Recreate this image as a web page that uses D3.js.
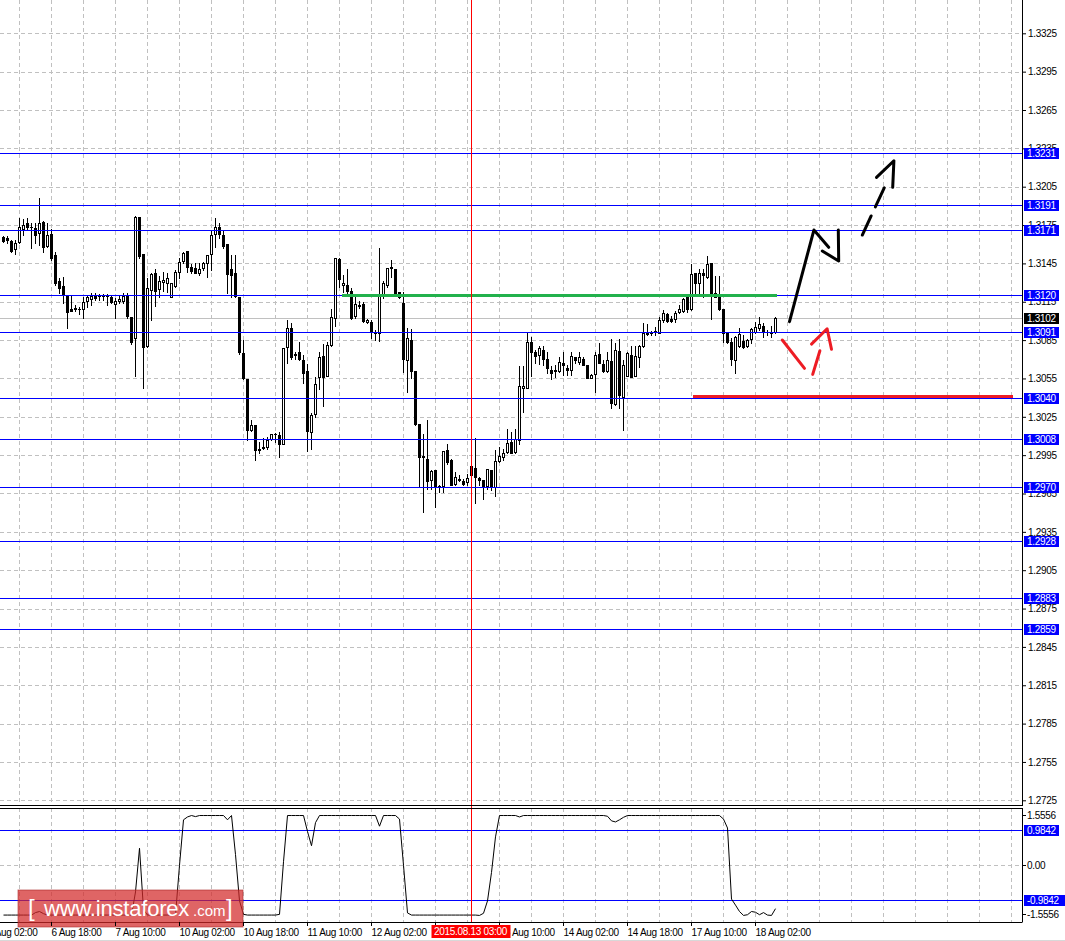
<!DOCTYPE html>
<html><head><meta charset="utf-8">
<script src="https://cdn.jsdelivr.net/npm/d3@7"></script>
<style>
body{margin:0;background:#fff;}
svg{display:block;}
text{font-family:"Liberation Sans",Arial,sans-serif;}
</style>
</head><body>
<svg id="chart" width="1065" height="941"></svg>
<script>
// ---------- DATA (EURUSD-like H1, 6 Aug 05:00 .. 18 Aug 07:00) ----------
const opens = [1.31659,1.31651,1.31625,1.31559,1.31620,1.31716,1.31763,1.31737,1.31724,1.31690,
1.31771,1.31586,1.31677,1.31515,1.31311,1.31272,1.31194,1.31093,1.31098,1.31093,
1.31093,1.31155,1.31168,1.31194,1.31194,1.31192,1.31194,1.31184,1.31134,1.31155,
1.31158,1.31194,1.31030,1.30863,1.31810,1.31523,1.30805,1.31241,1.31372,1.31249,
1.31306,1.31298,1.31189,1.31277,1.31385,1.31468,1.31544,1.31419,1.31411,1.31372,
1.31411,1.31455,1.31520,1.31677,1.31737,1.31669,1.31601,1.31403,1.31372,1.31189,
1.30750,1.30549,1.30150,1.30184,1.30001,1.30010,1.30010,1.30075,1.30114,1.30111,
1.30041,1.30793,1.30941,1.30738,1.30753,1.30693,1.30607,1.30132,1.30268,1.30558,
1.30725,1.30571,1.30811,1.31020,1.31484,1.31281,1.31281,1.31234,1.31038,1.31119,
1.31132,1.30994,1.30994,1.30915,1.30902,1.31202,1.31281,1.31415,1.31403,1.31223,
1.31142,1.30693,1.30850,1.30607,1.30190,1.29936,1.29923,1.29759,1.29832,1.29702,
1.29707,1.29994,1.29910,1.29728,1.29759,1.29746,1.29741,1.29793,1.29853,1.29775,
1.29754,1.29707,1.29832,1.29702,1.29905,1.29936,1.29976,1.30049,1.29976,1.30067,
1.30477,1.30477,1.30837,1.30759,1.30733,1.30772,1.30701,1.30620,1.30607,1.30607,
1.30667,1.30633,1.30620,1.30714,1.30675,1.30701,1.30654,1.30555,1.30581,1.30738,
1.30662,1.30610,1.30686,1.30349,1.30764,1.30406,1.30571,1.30733,1.30571,1.30714,
1.30803,1.30915,1.30910,1.30923,1.30907,1.31007,1.31054,1.31014,1.31012,1.31072,
1.31080,1.31184,1.31090,1.31372,1.31294,1.31372,1.31341,1.31456,1.31215,1.31189,
1.31093,1.30907,1.30837,1.30693,1.30803,1.30845,1.30803,1.30855,1.30915,1.30941,
1.30960,1.30915,1.30915,1.30915];
const highs = [1.31664,1.31664,1.31633,1.31633,1.31802,1.31794,1.31802,1.31763,1.31763,1.31959,
1.31781,1.31763,1.31716,1.31541,1.31332,1.31340,1.31194,1.31194,1.31124,1.31111,
1.31184,1.31194,1.31215,1.31220,1.31207,1.31207,1.31207,1.31194,1.31176,1.31194,
1.31215,1.31215,1.31030,1.31820,1.31815,1.31523,1.31338,1.31377,1.31406,1.31351,
1.31385,1.31377,1.31298,1.31398,1.31489,1.31541,1.31544,1.31445,1.31455,1.31455,
1.31463,1.31512,1.31711,1.31807,1.31768,1.31711,1.31601,1.31515,1.31515,1.31189,
1.30850,1.30549,1.30223,1.30184,1.30050,1.30088,1.30093,1.30119,1.30124,1.30132,
1.30785,1.31007,1.30980,1.30759,1.30832,1.30733,1.30662,1.30281,1.30563,1.30759,
1.30819,1.30837,1.31090,1.31489,1.31489,1.31359,1.31406,1.31260,1.31189,1.31155,
1.31150,1.31012,1.31007,1.30928,1.31568,1.31310,1.31411,1.31476,1.31403,1.31228,
1.31228,1.30941,1.30934,1.30607,1.30190,1.30119,1.30224,1.29832,1.29832,1.29715,
1.29981,1.30041,1.29923,1.29819,1.29793,1.29760,1.29806,1.29863,1.30088,1.29780,
1.29759,1.29845,1.29832,1.29994,1.30015,1.30002,1.30151,1.30132,1.30151,1.30646,
1.30646,1.30907,1.30871,1.30772,1.30803,1.30803,1.30759,1.30646,1.30654,1.30714,
1.30759,1.30654,1.30759,1.30719,1.30759,1.30719,1.30659,1.30581,1.30759,1.30829,
1.30693,1.30759,1.30855,1.30824,1.30858,1.30693,1.30759,1.30803,1.30803,1.30811,
1.30980,1.30975,1.30923,1.30954,1.31027,1.31085,1.31059,1.31038,1.31077,1.31124,
1.31176,1.31184,1.31445,1.31377,1.31403,1.31403,1.31508,1.31456,1.31351,1.31351,
1.31093,1.30907,1.30863,1.30884,1.30941,1.30889,1.30858,1.30941,1.30994,1.31027,
1.30986,1.30928,1.30960,1.31030];
const lows = [1.31620,1.31612,1.31541,1.31520,1.31606,1.31672,1.31711,1.31567,1.31606,1.31593,
1.31541,1.31580,1.31476,1.31280,1.31215,1.31137,1.30941,1.31079,1.31079,1.31058,
1.31019,1.31111,1.31124,1.31163,1.31163,1.31163,1.31124,1.31137,1.31019,1.31137,
1.31137,1.31019,1.30823,1.30568,1.31489,1.30476,1.30797,1.31006,1.31116,1.31189,
1.31233,1.31228,1.31189,1.31267,1.31338,1.31450,1.31385,1.31377,1.31372,1.31359,
1.31398,1.31345,1.31398,1.31580,1.31646,1.31567,1.31215,1.31189,1.31189,1.30745,
1.30549,1.30067,1.30140,1.29910,1.29970,1.30002,1.30002,1.30067,1.30054,1.29936,
1.30036,1.30667,1.30706,1.30706,1.30693,1.30516,1.29981,1.30002,1.30250,1.30464,
1.30336,1.30568,1.30806,1.30960,1.31268,1.31228,1.31215,1.31012,1.31020,1.31103,
1.30994,1.30980,1.30868,1.30850,1.30842,1.31180,1.31268,1.31346,1.31202,1.31176,
1.30602,1.30445,1.30550,1.30184,1.29702,1.29506,1.29689,1.29689,1.29545,1.29662,
1.29662,1.29884,1.29715,1.29715,1.29749,1.29720,1.29715,1.29715,1.29576,1.29715,
1.29610,1.29689,1.29681,1.29629,1.29897,1.29910,1.29963,1.29963,1.29963,1.30036,
1.30289,1.30477,1.30568,1.30667,1.30662,1.30654,1.30589,1.30542,1.30558,1.30602,
1.30576,1.30576,1.30576,1.30673,1.30662,1.30654,1.30550,1.30550,1.30445,1.30667,
1.30602,1.30602,1.30315,1.30341,1.30315,1.30145,1.30568,1.30563,1.30568,1.30642,
1.30798,1.30889,1.30889,1.30889,1.30902,1.30994,1.30988,1.30988,1.30994,1.31064,
1.31072,1.31072,1.31085,1.31202,1.31221,1.31184,1.31333,1.31012,1.31184,1.31085,
1.30837,1.30824,1.30654,1.30589,1.30798,1.30785,1.30793,1.30829,1.30902,1.30928,
1.30876,1.30889,1.30871,1.30907];
const closes = [1.31627,1.31633,1.31546,1.31612,1.31732,1.31750,1.31732,1.31732,1.31672,1.31763,
1.31580,1.31672,1.31494,1.31298,1.31259,1.31202,1.31071,1.31079,1.31095,1.31090,
1.31150,1.31184,1.31194,1.31181,1.31192,1.31194,1.31192,1.31150,1.31155,1.31173,
1.31194,1.31037,1.30837,1.31815,1.31507,1.30797,1.31254,1.31367,1.31236,1.31314,
1.31319,1.31338,1.31293,1.31385,1.31463,1.31528,1.31424,1.31392,1.31377,1.31406,
1.31450,1.31512,1.31669,1.31737,1.31677,1.31586,1.31364,1.31359,1.31194,1.30758,
1.30555,1.30150,1.30189,1.29993,1.29993,1.30005,1.30067,1.30114,1.30119,1.30036,
1.30785,1.30947,1.30719,1.30733,1.30701,1.30589,1.30140,1.30263,1.30503,1.30714,
1.30558,1.30811,1.31027,1.31489,1.31325,1.31294,1.31234,1.31025,1.31129,1.31124,
1.31001,1.31007,1.30915,1.30902,1.31202,1.31294,1.31411,1.31419,1.31210,1.31184,
1.30699,1.30863,1.30610,1.30192,1.29936,1.29942,1.29749,1.29824,1.29702,1.29707,
1.29981,1.29897,1.29720,1.29780,1.29762,1.29728,1.29775,1.29863,1.29780,1.29759,
1.29702,1.29845,1.29702,1.29903,1.29942,1.29970,1.30046,1.29970,1.30075,1.30492,
1.30490,1.30837,1.30759,1.30727,1.30785,1.30706,1.30628,1.30589,1.30615,1.30680,
1.30654,1.30615,1.30725,1.30693,1.30714,1.30659,1.30555,1.30576,1.30733,1.30667,
1.30610,1.30693,1.30359,1.30772,1.30419,1.30659,1.30751,1.30563,1.30725,1.30803,
1.30902,1.30894,1.30908,1.30920,1.31007,1.31059,1.30999,1.30999,1.31059,1.31090,
1.31168,1.31090,1.31364,1.31299,1.31372,1.31359,1.31442,1.31210,1.31184,1.31090,
1.30907,1.30837,1.30699,1.30876,1.30897,1.30793,1.30850,1.30934,1.30949,1.30973,
1.30915,1.30910,1.30902,1.31020];
// oscillator (lower window)
const indicator = [-1.40,-1.40,-1.40,-1.40,-1.40,-1.40,-1.40,-1.40,-1.33,-1.30,
-1.36,-1.40,-1.40,-1.40,-1.40,-1.40,-1.40,-1.40,-1.40,-1.40,
-1.40,-1.40,-1.40,-1.40,-1.40,-1.40,-1.40,-1.40,-1.40,-1.40,
-1.40,-1.40,-1.40,-0.75,0.48,-1.25,-1.40,-1.40,-1.40,-1.40,
-1.40,-1.40,-1.40,-1.40,0.00,1.28,1.36,1.40,1.37,1.40,
1.40,1.40,1.40,1.40,1.40,1.40,1.28,1.40,0.30,-1.00,
-1.38,-1.40,-1.40,-1.40,-1.40,-1.40,-1.40,-1.40,-1.40,-1.38,
0.10,1.40,1.40,1.40,1.40,1.40,0.95,0.55,1.20,1.40,
1.40,1.40,1.40,1.40,1.40,1.40,1.40,1.40,1.40,1.40,
1.40,1.40,1.40,1.40,1.10,1.40,1.40,1.40,1.40,1.30,
0.00,-1.34,-1.40,-1.40,-1.40,-1.40,-1.40,-1.40,-1.40,-1.40,
-1.40,-1.40,-1.40,-1.40,-1.40,-1.40,-1.40,-1.40,-1.40,-1.41,
-1.35,-1.00,-0.20,0.80,1.40,1.40,1.40,1.40,1.40,1.36,
1.40,1.40,1.40,1.40,1.40,1.40,1.40,1.40,1.40,1.40,
1.40,1.40,1.40,1.40,1.40,1.40,1.40,1.40,1.40,1.40,
1.40,1.38,1.25,1.22,1.28,1.35,1.40,1.40,1.40,1.40,
1.40,1.40,1.40,1.40,1.40,1.40,1.40,1.40,1.40,1.40,
1.40,1.40,1.40,1.40,1.40,1.40,1.40,1.40,1.40,1.40,
1.30,1.05,-0.95,-1.12,-1.30,-1.41,-1.39,-1.30,-1.32,-1.39,
-1.33,-1.40,-1.41,-1.22];

const priceTicks = [1.3325,1.3295,1.3265,1.3235,1.3205,1.3175,1.3145,1.3115,1.3085,1.3055,1.3025,
  1.2995,1.2965,1.2935,1.2905,1.2875,1.2845,1.2815,1.2785,1.2755,1.2725];
const levelValues = [1.3231,1.3191,1.3171,1.3120,1.3091,1.3040,1.3008,1.2970,1.2928,1.2883,1.2859];
const currentPrice = 1.3102;
const indLevels = [0.9842,-0.9842];
const indRange = [-1.5556,1.5556];
const timeTickIdx = [-4,12,28,44,60,76,92,108,124,140,156,172,188];
const timeLabels = ["6 Aug 02:00","6 Aug 18:00","7 Aug 10:00","10 Aug 02:00","10 Aug 18:00","11 Aug 10:00",
  "12 Aug 02:00","12 Aug 18:00","13 Aug 10:00","14 Aug 02:00","14 Aug 18:00","17 Aug 10:00","18 Aug 02:00"];
const cursorIdx = 117, cursorLabel = "2015.08.13 03:00";
const greenLine = {from:84.75, to:193.5, price:1.3120};
const redLine = {from:172.5, to:252.5, price:1.30413};
// hand-drawn forecast arrows: [bar index, price]
const blackShaft = [[196.5,1.30994],[202.6,1.31711],[206.3,1.31576]];
const blackHead1 = [[204.7,1.31547],[208.8,1.31469],[208.7,1.31711]];
const blackDash = [[214.7,1.31672],[220.75,1.32079]];
const blackHead2 = [[218.25,1.32123],[222.6,1.32253],[222.3,1.32045]];
const redSeg1 = [[194.7,1.30851],[200.25,1.30629]];
const redSeg2 = [[202.3,1.30582],[204.1,1.30767]];
const redHead = [[202,1.30819],[205.9,1.30939],[207,1.30778]];

// ---------- LAYOUT ----------
const svg = d3.select("#chart");
const W = 1065, H = 941, plotR = 1022;
const mainTop = 0, mainBot = 806, indTop = 808, indBot = 922;
const BLUE = "#0000ff", GRID = "#c0c0c0";

const xs = d3.scaleLinear().domain([0,1]).range([3,7]);         // bar index -> pixel column
const y = d3.scaleLinear().domain([1.2725,1.3325]).range([800.3,33.3]);
const yi = d3.scaleLinear().domain(indRange).range([920.6,810.0]);
const cx = i => xs(i) + 0.5;
const crisp = v => Math.round(v) + 0.5;

svg.append("rect").attr("width",W).attr("height",H).attr("fill","#fff");

// clip for plot regions
const defs = svg.append("defs");
defs.append("clipPath").attr("id","cm").append("rect").attr("x",0).attr("y",mainTop).attr("width",plotR).attr("height",mainBot-mainTop);
defs.append("clipPath").attr("id","ci").append("rect").attr("x",0).attr("y",indTop).attr("width",plotR).attr("height",indBot-indTop);

const gMain = svg.append("g").attr("clip-path","url(#cm)");
const gInd = svg.append("g").attr("clip-path","url(#ci)");

// vertical grid (every 8 bars)
const gridIdx = d3.range(4, 256, 8);
[[gMain,mainTop,mainBot],[gInd,indTop,indBot]].forEach(([g,t,b]) => {
  g.selectAll(null).data(gridIdx).enter().append("line")
    .attr("x1",d=>cx(d)).attr("x2",d=>cx(d)).attr("y1",t).attr("y2",b)
    .attr("stroke",GRID).attr("stroke-dasharray","4,3");
});
// horizontal grid
gMain.selectAll(null).data(priceTicks).enter().append("line")
  .attr("x1",0).attr("x2",plotR).attr("y1",d=>crisp(y(d))).attr("y2",d=>crisp(y(d)))
  .attr("stroke",GRID).attr("stroke-dasharray","4,3");
gInd.append("line").attr("x1",0).attr("x2",plotR).attr("y1",crisp(yi(0))).attr("y2",crisp(yi(0)))
  .attr("stroke",GRID).attr("stroke-dasharray","4,3");

// current price line
gMain.append("line").attr("x1",0).attr("x2",plotR).attr("y1",crisp(y(currentPrice))).attr("y2",crisp(y(currentPrice)))
  .attr("stroke","#c0c0c0");

// candles
const bars = d3.range(opens.length).map(i => ({i,o:opens[i],h:highs[i],l:lows[i],c:closes[i]}));
const gC = gMain.append("g");
gC.selectAll(null).data(bars).enter().append("line")
  .attr("x1",d=>cx(d.i)).attr("x2",d=>cx(d.i))
  .attr("y1",d=>Math.round(y(d.h))).attr("y2",d=>Math.round(y(d.l))+1)
  .attr("stroke","#000");
bars.forEach(d => {
  const top = Math.round(y(Math.max(d.o,d.c)));
  let bot = Math.round(y(Math.min(d.o,d.c)));
  const px = xs(d.i);
  if (d.c >= d.o) {
    if (bot - top < 2) { // doji-like: flat body
      gC.append("rect").attr("x",px-1).attr("y",top).attr("width",3).attr("height",Math.max(1,bot-top+1)).attr("fill","#000");
    } else {
      gC.append("rect").attr("x",px-0.5).attr("y",top+0.5).attr("width",2).attr("height",bot-top)
        .attr("fill","#fff").attr("stroke","#000");
    }
  } else {
    gC.append("rect").attr("x",px-1).attr("y",top).attr("width",3).attr("height",Math.max(1,bot-top+1)).attr("fill","#000");
  }
});

// level lines
gMain.selectAll(null).data(levelValues).enter().append("line")
  .attr("x1",0).attr("x2",plotR).attr("y1",d=>crisp(y(d))).attr("y2",d=>crisp(y(d)))
  .attr("stroke",BLUE);

// green & red horizontal marks
gMain.append("line").attr("x1",xs(greenLine.from)).attr("x2",xs(greenLine.to))
  .attr("y1",crisp(y(greenLine.price))).attr("y2",crisp(y(greenLine.price)))
  .attr("stroke","#22b14c").attr("stroke-width",3);
gMain.append("line").attr("x1",xs(redLine.from)).attr("x2",xs(redLine.to))
  .attr("y1",crisp(y(redLine.price))).attr("y2",crisp(y(redLine.price)))
  .attr("stroke","#ed1c24").attr("stroke-width",3);

// forecast arrows
const ln = d3.line().x(d=>cx(d[0])).y(d=>y(d[1]));
const drawPath = (pts,col,dash) => {
  const p = gMain.append("path").attr("d",ln(pts)).attr("fill","none").attr("stroke",col)
    .attr("stroke-width",3).attr("stroke-linecap","round").attr("stroke-linejoin","round");
  if (dash) p.attr("stroke-dasharray",dash);
};
drawPath(blackShaft,"#000");
drawPath(blackHead1,"#000");
drawPath(blackDash,"#000","21,10");
drawPath(blackHead2,"#000");
drawPath(redSeg1,"#ed1c24");
drawPath(redSeg2,"#ed1c24");
drawPath(redHead,"#ed1c24");

// indicator window
gInd.selectAll(null).data(indLevels).enter().append("line")
  .attr("x1",0).attr("x2",plotR).attr("y1",d=>crisp(yi(d))).attr("y2",d=>crisp(yi(d))).attr("stroke",BLUE);
const iln = d3.line().x((d,i)=>cx(i)).y(d=>yi(d));
gInd.append("path").attr("d",iln(indicator)).attr("fill","none").attr("stroke","#000").attr("stroke-width",1);

// cursor line (red)
svg.append("line").attr("x1",cx(cursorIdx)).attr("x2",cx(cursorIdx)).attr("y1",0).attr("y2",indBot)
  .attr("stroke","#ff0000");

// frames
const fr = svg.append("g").attr("stroke","#000").attr("fill","none");
fr.append("line").attr("x1",0).attr("x2",plotR+0.5).attr("y1",mainBot-0.5).attr("y2",mainBot-0.5);
fr.append("line").attr("x1",plotR+0.5).attr("x2",plotR+0.5).attr("y1",0).attr("y2",mainBot);
fr.append("line").attr("x1",0).attr("x2",plotR+0.5).attr("y1",indTop+0.5).attr("y2",indTop+0.5);
fr.append("line").attr("x1",plotR+0.5).attr("x2",plotR+0.5).attr("y1",indTop).attr("y2",indBot);
fr.append("line").attr("x1",0).attr("x2",plotR+0.5).attr("y1",indBot+0.5).attr("y2",indBot+0.5);

// price axis
const pAxis = d3.axisRight(y).tickValues(priceTicks).tickSize(4).tickPadding(2).tickFormat(d=>d.toFixed(4));
const gpa = svg.append("g").attr("transform",`translate(${plotR},0)`).call(pAxis);
gpa.select(".domain").remove();
gpa.selectAll("text").attr("font-family","Liberation Sans, Arial, sans-serif").attr("font-size",10)
  .attr("letter-spacing","-0.3").attr("fill","#000");
gpa.selectAll("line").attr("stroke","#000");

// level labels
const lab = svg.append("g");
const boxLabel = (v, yy, fill, w) => {
  const yc = Math.round(yy);
  lab.append("rect").attr("x",1024).attr("y",yc-5).attr("width",w||35).attr("height",11).attr("fill",fill);
  lab.append("text").attr("x",1027).attr("y",yc+4).attr("font-size",10).attr("letter-spacing","-0.3")
    .attr("fill","#fff").text(v);
};
levelValues.forEach(v => boxLabel(v.toFixed(4), y(v), BLUE));
boxLabel(currentPrice.toFixed(4), y(currentPrice), "#000");

// indicator axis labels
const ia = svg.append("g");
[[indRange[1], yi(indRange[1])+5],[0, yi(0)],[indRange[0], yi(indRange[0])-7]].forEach(([v,yy]) => {
  ia.append("line").attr("x1",plotR).attr("x2",plotR+4).attr("y1",crisp(yy)).attr("y2",crisp(yy)).attr("stroke","#000");
  ia.append("text").attr("x",1027).attr("y",Math.round(yy)+4).attr("font-size",10).attr("letter-spacing","-0.3")
    .text(v===0 ? "0.00" : v.toFixed(4));
});
indLevels.forEach(v => boxLabel(v.toFixed(4), yi(v), BLUE, v<0 ? 41 : 35));

// watermark
const wm = svg.append("g");
wm.append("rect").attr("x",18).attr("y",890).attr("width",225).attr("height",37)
  .attr("fill","rgba(211,42,42,0.72)").attr("stroke","rgba(170,40,40,0.6)");
const wt = wm.append("text").attr("y",916).attr("fill","#fff");
wt.append("tspan").attr("x",28).attr("font-size",24).text("[");
wt.append("tspan").attr("x",44).attr("font-size",22).attr("letter-spacing","-0.2").text("www.instaforex");
wt.append("tspan").attr("x",193).attr("font-size",15).text(".com");
wt.append("tspan").attr("x",226).attr("font-size",24).text("]");

// time axis
const tAxis = d3.axisBottom(xs).tickValues(timeTickIdx).tickSize(4).tickPadding(3)
  .tickFormat((d,i)=>timeLabels[i]);
const gta = svg.append("g").attr("transform",`translate(0,${indBot})`).call(tAxis);
gta.select(".domain").remove();
gta.selectAll("line").attr("stroke","#000");
gta.selectAll("text").attr("text-anchor","start").attr("font-family","Liberation Sans, Arial, sans-serif")
  .attr("font-size",10).attr("letter-spacing","-0.3").attr("fill","#000");

// cursor time label
svg.append("rect").attr("x",cx(cursorIdx)-40).attr("y",925).attr("width",79).attr("height",13).attr("fill","#ff0000");
svg.append("text").attr("x",cx(cursorIdx)-1).attr("y",935).attr("text-anchor","middle").attr("font-size",10)
  .attr("letter-spacing","-0.3").attr("fill","#fff").text(cursorLabel);

svg.append("line").attr("x1",0).attr("x2",W).attr("y1",940.5).attr("y2",940.5).attr("stroke","#d8d8d8");
</script>
</body></html>
